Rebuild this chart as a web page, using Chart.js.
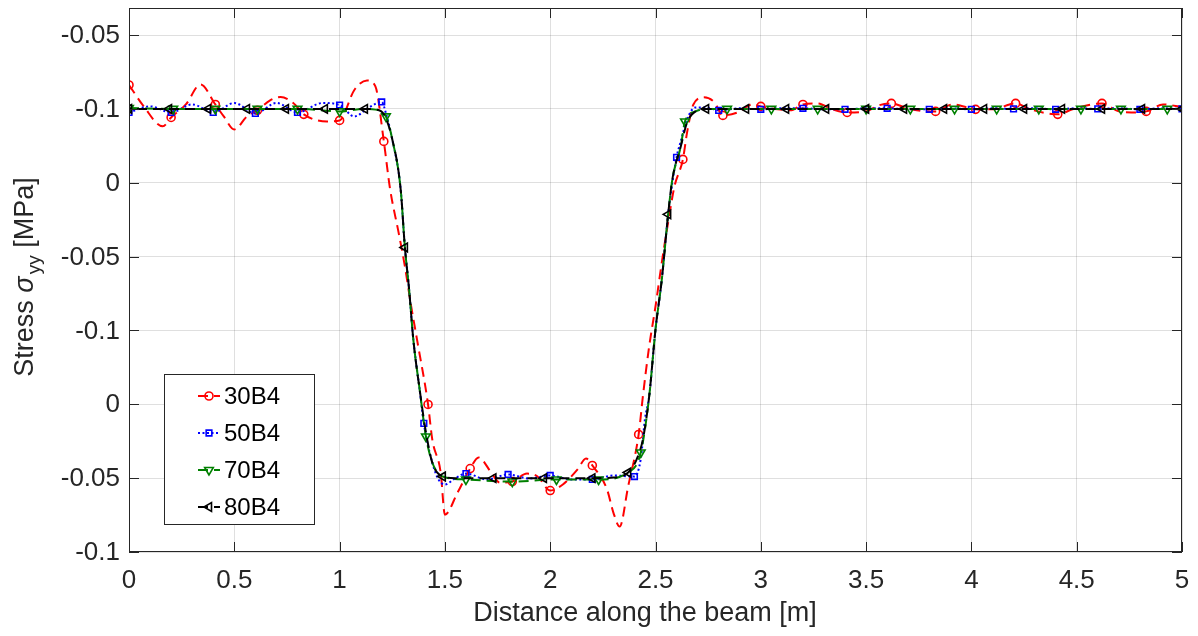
<!DOCTYPE html>
<html lang="en">
<head>
<meta charset="utf-8">
<title>Stress along the beam</title>
<script src="https://cdn.jsdelivr.net/npm/chart.js@4.4.1/dist/chart.umd.min.js"></script>
<style>
  html, body { margin: 0; padding: 0; background: #fff; }
  #wrap { width: 1198px; height: 636px; }
</style>
</head>
<body>
<div id="wrap"><canvas id="stressChart" width="1198" height="636"></canvas></div>
<script>
const xTicks = [0, 0.5, 1, 1.5, 2, 2.5, 3, 3.5, 4, 4.5, 5];
const yTicks = [-0.4, -0.35, -0.3, -0.25, -0.2, -0.15, -0.1, -0.05];
const yTickLabels = ['-0.1', '-0.05', '0', '-0.1', '-0.05', '0', '-0.1', '-0.05'];
const yMin = -0.4;
const yMax = -0.0317;

const xTitle = 'Distance along the beam [m]';
const yTitle = { before: 'Stress ', symbol: 'σ', sub: 'yy', after: ' [MPa]' };

const series30X = [0, 0.07, 0.16, 0.2, 0.27, 0.34, 0.41, 0.45, 0.5, 0.56, 0.61, 0.67, 0.72, 0.78, 0.83, 0.94, 1.0, 1.07, 1.13, 1.17,
  1.21, 1.24, 1.28, 1.31, 1.34, 1.37, 1.42, 1.44, 1.48, 1.5, 1.56, 1.62, 1.66, 1.72, 1.76, 1.82, 1.89, 1.94, 2.0, 2.06,
  2.13, 2.17, 2.2, 2.27, 2.3, 2.33, 2.37, 2.42, 2.44, 2.47, 2.5, 2.53, 2.56, 2.59, 2.63, 2.65, 2.68, 2.73, 2.78, 2.82,
  2.89, 2.96, 3.0, 3.08, 3.14, 3.2, 3.27, 3.34, 3.41, 3.5, 3.56, 3.62, 3.71, 3.83, 3.91, 3.98, 4.02, 4.1, 4.21, 4.28,
  4.41, 4.48, 4.57, 4.62, 4.7, 4.76, 4.83, 4.91, 5.0];
const series30Y = [-0.0838, -0.0983, -0.1118, -0.1058, -0.0970, -0.0834, -0.0970, -0.1051, -0.1139, -0.1051, -0.1010, -0.0942, -0.0919, -0.0960, -0.1037, -0.1085, -0.1078, -0.0872, -0.0807, -0.0848,
  -0.1220, -0.1545, -0.1836, -0.2066, -0.2337, -0.2581, -0.3001, -0.3238, -0.3462, -0.3747, -0.3598, -0.3435, -0.3360, -0.3462, -0.3530, -0.3523, -0.3469, -0.3489, -0.3584, -0.3543,
  -0.3441, -0.3367, -0.3414, -0.3577, -0.3733, -0.3828, -0.3557, -0.3204, -0.2947, -0.2608, -0.2337, -0.2039, -0.1768, -0.1525, -0.1342, -0.1159, -0.0970, -0.0922, -0.0956, -0.1044,
  -0.1024, -0.0970, -0.0983, -0.1003, -0.1010, -0.0970, -0.0963, -0.1003, -0.1024, -0.1017, -0.0976, -0.0963, -0.1003, -0.1017, -0.0970, -0.0990, -0.1003, -0.1003, -0.0963, -0.1003,
  -0.1037, -0.1003, -0.0970, -0.0963, -0.1017, -0.1024, -0.1017, -0.0970, -0.0987];
const series30Marks = [0, 0.2, 0.41, 0.61, 0.83, 1.0, 1.21, 1.42, 1.62, 1.82, 2.0, 2.2, 2.42, 2.63, 2.82, 3.0, 3.2, 3.41, 3.62, 3.83, 4.02, 4.21, 4.41, 4.62, 4.83];

const series50X = [0, 0.1, 0.2, 0.3, 0.4, 0.5, 0.6, 0.7, 0.8, 0.92, 1.0, 1.07, 1.14, 1.2, 1.22, 1.25, 1.29, 1.31, 1.33, 1.35,
  1.38, 1.4, 1.44, 1.47, 1.5, 1.55, 1.6, 1.7, 1.8, 1.9, 2.0, 2.1, 2.2, 2.3, 2.4, 2.43, 2.45, 2.47, 2.5, 2.53,
  2.56, 2.6, 2.62, 2.65, 2.69, 2.74, 2.8, 2.9, 3.0, 3.1, 3.2, 3.3, 3.4, 3.5, 3.6, 3.7, 3.8, 3.9, 4.0, 4.1,
  4.2, 4.3, 4.4, 4.5, 4.6, 4.7, 4.8, 4.9, 5.0];
const series50Y = [-0.1024, -0.0983, -0.1024, -0.0970, -0.1024, -0.0960, -0.1031, -0.0960, -0.1024, -0.0960, -0.0974, -0.1051, -0.0990, -0.0953, -0.1030, -0.1206, -0.1545, -0.1938, -0.2222, -0.2561,
  -0.2899, -0.3129, -0.3394, -0.3510, -0.3543, -0.3500, -0.3469, -0.3509, -0.3475, -0.3502, -0.3482, -0.3509, -0.3509, -0.3482, -0.3489, -0.3370, -0.3100, -0.2947, -0.2493, -0.2154,
  -0.1714, -0.1328, -0.1220, -0.1070, -0.0990, -0.0990, -0.1010, -0.0996, -0.1003, -0.0996, -0.0996, -0.1003, -0.1003, -0.0996, -0.0996, -0.1003, -0.1003, -0.0996, -0.1003, -0.0996,
  -0.1000, -0.0996, -0.1003, -0.0996, -0.1000, -0.0996, -0.1003, -0.0996, -0.1000];
const series50Marks = [0, 0.2, 0.4, 0.6, 0.8, 1.0, 1.2, 1.4, 1.6, 1.8, 2.0, 2.2, 2.4, 2.6, 2.8, 3.0, 3.2, 3.4, 3.6, 3.8, 4.0, 4.2, 4.4, 4.6, 4.8, 5.0];

const series70X = [0, 0.21, 0.41, 0.61, 0.8, 1.0, 1.12, 1.17, 1.22, 1.25, 1.29, 1.31, 1.33, 1.35, 1.38, 1.41, 1.44, 1.49, 1.6, 1.82,
  2.03, 2.23, 2.37, 2.43, 2.47, 2.5, 2.53, 2.56, 2.58, 2.62, 2.64, 2.69, 2.74, 2.84, 3.05, 3.27, 3.5, 3.71, 3.92, 4.12,
  4.32, 4.52, 4.71, 4.93, 5.0];
const series70Y = [-0.0994, -0.1000, -0.1000, -0.1000, -0.1000, -0.1017, -0.1000, -0.1005, -0.1051, -0.1206, -0.1545, -0.1938, -0.2222, -0.2561, -0.2899, -0.3218, -0.3394, -0.3489, -0.3509, -0.3523,
  -0.3509, -0.3509, -0.3462, -0.3326, -0.2947, -0.2493, -0.2154, -0.1714, -0.1477, -0.1254, -0.1085, -0.1017, -0.1000, -0.1000, -0.1000, -0.1000, -0.1000, -0.1000, -0.1000, -0.1000,
  -0.1000, -0.1000, -0.1000, -0.1000, -0.1000];
const series70Marks = [0, 0.21, 0.41, 0.61, 0.8, 1.0, 1.22, 1.41, 1.6, 1.82, 2.03, 2.23, 2.43, 2.64, 2.84, 3.05, 3.27, 3.5, 3.71, 3.92, 4.12, 4.32, 4.52, 4.71, 4.93];

const series80X = [0, 0.19, 0.375, 0.56, 0.745, 0.93, 1.12, 1.17, 1.21, 1.25, 1.29, 1.31, 1.33, 1.35, 1.38, 1.41, 1.44, 1.49, 1.55, 1.73,
  1.97, 2.2, 2.3, 2.37, 2.41, 2.44, 2.47, 2.5, 2.53, 2.56, 2.58, 2.62, 2.65, 2.69, 2.74, 2.93, 3.12, 3.31, 3.5, 3.68,
  3.87, 4.06, 4.25, 4.43, 4.62, 4.81, 5.0];
const series80Y = [-0.1000, -0.1000, -0.1000, -0.1000, -0.1000, -0.1000, -0.1000, -0.1005, -0.1037, -0.1206, -0.1545, -0.1938, -0.2222, -0.2561, -0.2899, -0.3190, -0.3394, -0.3489, -0.3500, -0.3500,
  -0.3500, -0.3500, -0.3496, -0.3462, -0.3374, -0.3238, -0.2947, -0.2493, -0.2154, -0.1714, -0.1477, -0.1254, -0.1091, -0.1017, -0.1000, -0.1000, -0.1000, -0.1000, -0.1000, -0.1000,
  -0.1000, -0.1000, -0.1000, -0.1000, -0.1000, -0.1000, -0.1000];
const series80Marks = [0, 0.19, 0.375, 0.56, 0.745, 0.93, 1.12, 1.31, 1.49, 1.73, 1.97, 2.2, 2.37, 2.56, 2.74, 2.93, 3.12, 3.31, 3.5, 3.68, 3.87, 4.06, 4.25, 4.43, 4.62, 4.81, 5.0];

const seriesList = [
  { label: '30B4', xs: series30X, ys: series30Y, marks: series30Marks, color: '#ff0000', dash: [10, 6], dashOffset: 0, shape: 'circle', rotation: 0, radius: 4, order: 4 },
  { label: '50B4', xs: series50X, ys: series50Y, marks: series50Marks, color: '#0000ff', dash: [2, 2.5], dashOffset: 0, shape: 'rect', rotation: 0, radius: 4, order: 3 },
  { label: '70B4', xs: series70X, ys: series70Y, marks: series70Marks, color: '#008000', dash: [10, 6], dashOffset: 0, shape: 'triangle', rotation: 180, radius: 5, order: 2 },
  { label: '80B4', xs: series80X, ys: series80Y, marks: series80Marks, color: '#000000', dash: [10, 6], dashOffset: 8, shape: 'triangle', rotation: 270, radius: 5, order: 1 }
];

const axisColor = '#262626';
const fontFamily = '"Liberation Sans", Arial, Helvetica, sans-serif';

function buildDataset(s) {
  return {
    label: s.label,
    data: s.xs.map((x, i) => ({ x, y: s.ys[i] })),
    borderColor: s.color,
    borderWidth: 2,
    borderDash: s.dash,
    borderDashOffset: s.dashOffset,
    cubicInterpolationMode: 'monotone',
    fill: false,
    order: s.order,
    pointStyle: s.shape,
    pointRotation: s.rotation,
    pointBorderColor: s.color,
    pointBackgroundColor: 'rgba(255,255,255,0)',
    pointBorderWidth: 1.6,
    pointRadius: (ctx) => (ctx.raw && s.marks.includes(ctx.raw.x) ? s.radius : 0),
    pointHoverRadius: 0
  };
}

function drawMarker(ctx, s, x, y) {
  const r = s.radius;
  ctx.save();
  ctx.strokeStyle = s.color;
  ctx.lineWidth = 1.6;
  ctx.setLineDash([]);
  ctx.beginPath();
  if (s.shape === 'circle') {
    ctx.arc(x, y, r, 0, Math.PI * 2);
  } else if (s.shape === 'rect') {
    const h = r * Math.SQRT1_2;
    ctx.rect(x - h, y - h, 2 * h, 2 * h);
  } else {
    let rad = s.rotation * Math.PI / 180;
    for (let k = 0; k < 3; k++) {
      const px = x + Math.sin(rad) * r;
      const py = y - Math.cos(rad) * r;
      if (k === 0) ctx.moveTo(px, py); else ctx.lineTo(px, py);
      rad += Math.PI * 2 / 3;
    }
    ctx.closePath();
  }
  ctx.stroke();
  ctx.restore();
}

const framePlugin = {
  id: 'matlabFrame',
  afterDraw(chart) {
    const { ctx, chartArea: a, scales } = chart;
    ctx.save();

    // axes box with inward ticks on every side
    ctx.strokeStyle = axisColor;
    ctx.lineWidth = 1;
    ctx.strokeRect(a.left + 0.5, a.top + 0.5, a.right - a.left - 1, a.bottom - a.top - 1);
    ctx.beginPath();
    xTicks.forEach((v) => {
      const px = Math.round(scales.x.getPixelForValue(v)) + 0.5;
      ctx.moveTo(px, a.bottom); ctx.lineTo(px, a.bottom - 10);
      ctx.moveTo(px, a.top); ctx.lineTo(px, a.top + 10);
    });
    yTicks.forEach((v) => {
      const py = Math.round(scales.y.getPixelForValue(v)) + 0.5;
      ctx.moveTo(a.left, py); ctx.lineTo(a.left + 10, py);
      ctx.moveTo(a.right, py); ctx.lineTo(a.right - 10, py);
    });
    ctx.stroke();

    // tick labels
    ctx.fillStyle = axisColor;
    ctx.font = `26px ${fontFamily}`;
    ctx.textAlign = 'center';
    ctx.textBaseline = 'alphabetic';
    xTicks.forEach((v) => {
      ctx.fillText(String(v), scales.x.getPixelForValue(v), 588);
    });
    ctx.textAlign = 'right';
    ctx.textBaseline = 'middle';
    yTicks.forEach((v, i) => {
      ctx.fillText(yTickLabels[i], a.left - 9, scales.y.getPixelForValue(v) + 1);
    });

    // axis titles
    ctx.font = `27px ${fontFamily}`;
    ctx.textAlign = 'center';
    ctx.textBaseline = 'alphabetic';
    ctx.fillText(xTitle, 645, 621);
    drawYTitle(ctx, 33, 277);

    drawLegend(ctx);
    ctx.restore();
  }
};

function drawYTitle(ctx, x, y) {
  const mainFont = `27px ${fontFamily}`;
  const symFont = `italic 27px ${fontFamily}`;
  const subFont = `19px ${fontFamily}`;
  ctx.save();
  ctx.translate(x, y);
  ctx.rotate(-Math.PI / 2);
  ctx.textAlign = 'left';
  ctx.textBaseline = 'alphabetic';
  ctx.font = mainFont;
  const w1 = ctx.measureText(yTitle.before).width;
  const w4 = ctx.measureText(yTitle.after).width;
  ctx.font = symFont;
  const w2 = ctx.measureText(yTitle.symbol).width + 2;
  ctx.font = subFont;
  const w3 = ctx.measureText(yTitle.sub).width;
  let cx = -(w1 + w2 + w3 + w4) / 2;
  ctx.font = mainFont;
  ctx.fillText(yTitle.before, cx, 0);
  cx += w1;
  ctx.font = symFont;
  ctx.fillText(yTitle.symbol, cx, 0);
  cx += w2;
  ctx.font = subFont;
  ctx.fillText(yTitle.sub, cx, 7);
  cx += w3;
  ctx.font = mainFont;
  ctx.fillText(yTitle.after, cx, 0);
  ctx.restore();
}

function drawLegend(ctx) {
  const box = { left: 164, top: 374, width: 150, height: 150 };
  ctx.save();
  ctx.fillStyle = '#ffffff';
  ctx.fillRect(box.left, box.top, box.width, box.height);
  ctx.strokeStyle = axisColor;
  ctx.lineWidth = 1;
  ctx.strokeRect(box.left + 0.5, box.top + 0.5, box.width, box.height);

  seriesList.forEach((s, i) => {
    const rowY = 396 + i * 37;
    ctx.strokeStyle = s.color;
    ctx.lineWidth = 2;
    ctx.setLineDash(s.dash);
    ctx.lineDashOffset = 0;
    ctx.beginPath();
    ctx.moveTo(198, rowY);
    ctx.lineTo(220, rowY);
    ctx.stroke();
    drawMarker(ctx, s, 209, rowY);

    ctx.fillStyle = '#000000';
    ctx.font = `24px ${fontFamily}`;
    ctx.textAlign = 'left';
    ctx.textBaseline = 'middle';
    ctx.fillText(s.label, 224, rowY + 1);
  });
  ctx.restore();
}

const gridStyle = { color: 'rgba(38,38,38,0.15)', lineWidth: 1, drawTicks: false };

new Chart(document.getElementById('stressChart'), {
  type: 'line',
  data: { datasets: seriesList.map(buildDataset) },
  options: {
    responsive: false,
    devicePixelRatio: 1,
    animation: false,
    events: [],
    layout: { padding: { top: 8, right: 16, bottom: 0, left: 0 } },
    plugins: { legend: { display: false }, tooltip: { enabled: false } },
    scales: {
      x: {
        type: 'linear',
        min: 0,
        max: 5,
        grid: gridStyle,
        border: { display: false },
        ticks: { display: false },
        afterBuildTicks: (scale) => { scale.ticks = xTicks.map((value) => ({ value })); },
        afterFit: (scale) => { scale.height = 84; }
      },
      y: {
        type: 'linear',
        min: yMin,
        max: yMax,
        grid: gridStyle,
        border: { display: false },
        ticks: { display: false },
        afterBuildTicks: (scale) => { scale.ticks = yTicks.map((value) => ({ value })); },
        afterFit: (scale) => { scale.width = 129; }
      }
    }
  },
  plugins: [framePlugin]
});
</script>
</body>
</html>
